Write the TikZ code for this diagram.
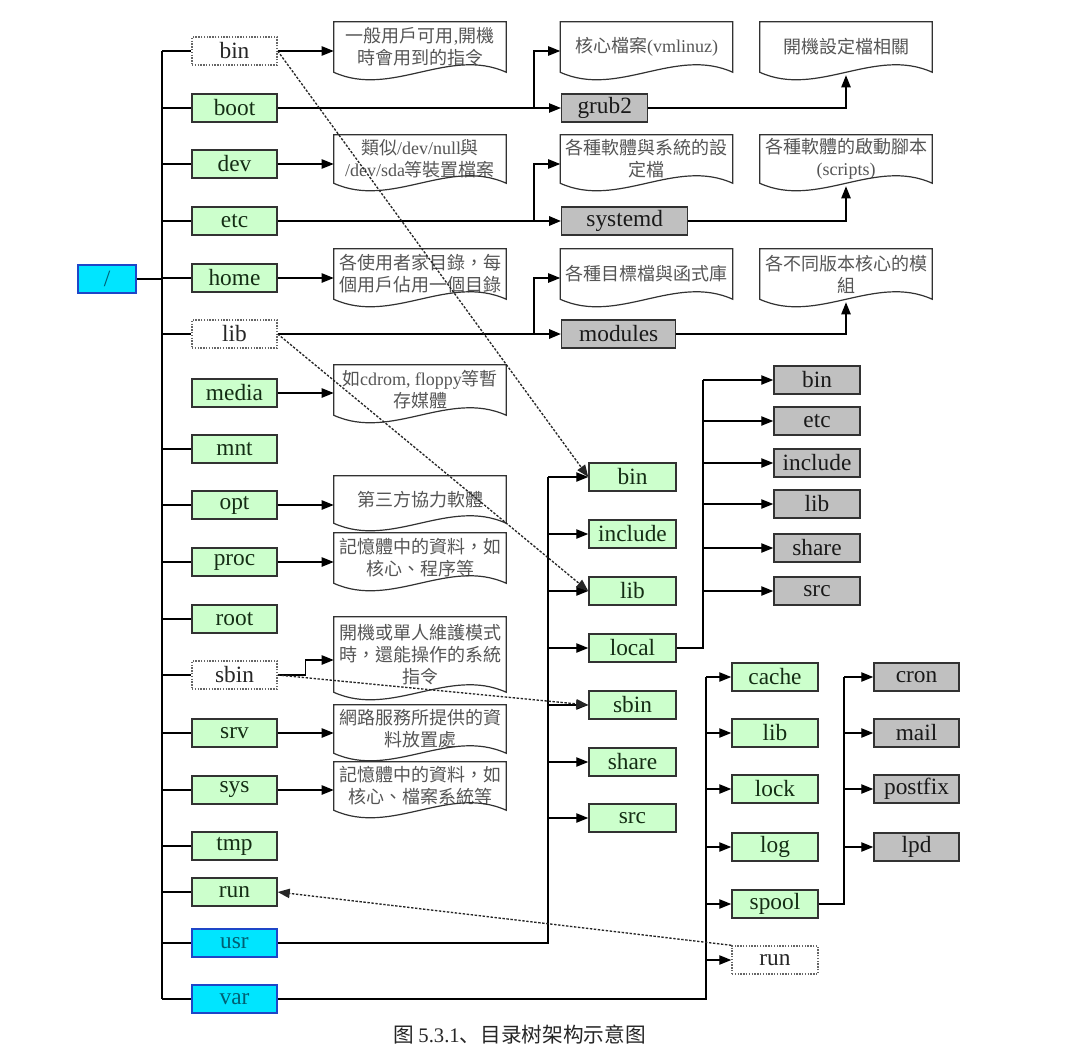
\documentclass[tikz,border=0pt]{standalone}
\usepackage{fontspec}
\setmainfont{Liberation Serif}
\newfontfamily\cjk{Noto Sans CJK TC}
\newfontfamily\cjksc{Noto Sans CJK SC}
\usetikzlibrary{arrows.meta,calc}
\definecolor{gfill}{RGB}{204,255,204}
\definecolor{gtext}{RGB}{20,45,20}
\definecolor{cfill}{RGB}{0,229,255}
\definecolor{cbord}{RGB}{30,70,200}
\definecolor{ctext}{RGB}{0,95,115}
\definecolor{yfill}{RGB}{192,192,192}
\definecolor{bord}{RGB}{50,50,50}
\definecolor{desctext}{RGB}{85,85,85}
\newcommand\docout[1]{\draw[descline] (#1.north west) -- (#1.north east) -- (#1.south east)
  .. controls ($(#1.south east)!1/3!(#1.south west)+(0,-26)$) and ($(#1.south east)!2/3!(#1.south west)+(0,26)$) .. (#1.south west) -- cycle;}
\begin{document}
\begin{tikzpicture}[x=0.75pt,y=-0.75pt,
  box/.style={draw=bord, line width=1.1pt, minimum width=63.75pt, minimum height=21pt, inner sep=0pt, font=\fontsize{17.5}{20}\selectfont},
  gbox/.style={box, fill=gfill, text=gtext},
  cbox/.style={box, fill=cfill, draw=cbord, text=ctext},
  ybox/.style={box, fill=yfill, text=black!90},
  dbox/.style={box, fill=white, draw=black!60, densely dotted, text=black!85},
  desc/.style={minimum width=129pt, inner sep=0pt, align=center, text=desctext, font=\cjk\fontsize{13.5}{16.5}\selectfont},
  descline/.style={draw=bord, line width=0.9pt},
  conn/.style={line width=1pt, draw=black},
  thk/.style={line width=1.7pt},
  tip/.style={-{Triangle[length=9pt,width=7pt]}},
  arr/.style={conn, tip},
  dot/.style={dash pattern=on 1.8pt off 1.2pt, line width=1pt, draw=black!85, tip}
]
\useasboundingbox (0,0) rectangle (1068,1064);
\fill[white] (0,0) rectangle (1068,1064);

% root
\node[cbox, minimum width=43.5pt] (slash) at (107,279) {/};

% first level
\node[dbox] (bin)   at (234.5,51)  {bin};
\node[gbox] (boot)  at (234.5,108) {boot};
\node[gbox] (dev)   at (234.5,164) {dev};
\node[gbox] (etc)   at (234.5,221) {etc};
\node[gbox] (home)  at (234.5,278) {home};
\node[dbox] (lib)   at (234.5,334) {lib};
\node[gbox] (media) at (234.5,393) {media};
\node[gbox] (mnt)   at (234.5,449) {mnt};
\node[gbox] (opt)   at (234.5,505) {opt};
\node[gbox] (proc)  at (234.5,562) {proc};
\node[gbox] (root)  at (234.5,619) {root};
\node[dbox] (sbin)  at (234.5,675) {sbin};
\node[gbox] (srv)   at (234.5,733) {srv};
\node[gbox] (sys)   at (234.5,790) {sys};
\node[gbox] (tmp)   at (234.5,846) {tmp};
\node[gbox] (run)   at (234.5,892) {run};
\node[cbox] (usr)   at (234.5,943) {usr};
\node[cbox] (var)   at (234.5,999) {var};

% descriptions, left column
\node[desc, minimum height=37.5pt] (d1) at (420,47) {一般用戶可用{\rmfamily,}開機\\時會用到的指令};
\node[desc, minimum height=36pt]   (d2) at (420,159) {類似{\rmfamily /dev/null}與\\{\rmfamily /dev/sda}等裝置檔案};
\node[desc, minimum height=37.5pt] (d3) at (420,274) {各使用者家目錄，每\\個用戶佔用一個目錄};
\node[desc, minimum height=37.5pt] (d4) at (420,390) {如{\rmfamily cdrom, floppy}等暫\\存媒體};
\node[desc, minimum height=35.25pt] (d5) at (420,499.5) {第三方協力軟體};
\node[desc, minimum height=37.5pt] (d6) at (420,558) {記憶體中的資料，如\\核心、程序等};
\node[desc, minimum height=56.25pt] (d7) at (420,654.5) {開機或單人維護模式\\時，還能操作的系統\\指令};
\node[desc, minimum height=36pt]   (d8) at (420,729) {網路服務所提供的資\\料放置處};
\node[desc, minimum height=36pt]   (d9) at (420,786) {記憶體中的資料，如\\核心、檔案系統等};

% descriptions, right columns
\node[desc, minimum height=37.5pt] (k1) at (646.5,47) {核心檔案{\rmfamily (vmlinuz)}};
\node[desc, minimum height=37.5pt] (k2) at (846,47) {開機設定檔相關};
\node[desc, minimum height=36pt]   (k3) at (646.5,159) {各種軟體與系統的設\\定檔};
\node[desc, minimum height=36pt]   (k4) at (846,159) {各種軟體的啟動腳本\\{\rmfamily (scripts)}};
\node[desc, minimum height=37.5pt] (k5) at (646.5,274) {各種目標檔與函式庫};
\node[desc, minimum height=37.5pt] (k6) at (846,274) {各不同版本核心的模\\組};

\foreach \d in {d1,d2,d3,d4,d5,d6,d7,d8,d9,k1,k2,k3,k4,k5,k6} {\docout{\d}}

% gray boxes
\node[ybox, anchor=west, minimum width=64.5pt] (grub) at (561,108) {grub2};
\node[ybox, anchor=west, minimum width=94.5pt] (systemd) at (561,221) {systemd};
\node[ybox, anchor=west, minimum width=85.5pt] (modules) at (561,334) {modules};

% usr children
\node[gbox, minimum width=65.25pt] (ubin)     at (632.5,477) {bin};
\node[gbox, minimum width=65.25pt] (uinclude) at (632.5,534) {include};
\node[gbox, minimum width=65.25pt] (ulib)     at (632.5,591) {lib};
\node[gbox, minimum width=65.25pt] (ulocal)   at (632.5,648) {local};
\node[gbox, minimum width=65.25pt] (usbin)    at (632.5,705) {sbin};
\node[gbox, minimum width=65.25pt] (ushare)   at (632.5,762) {share};
\node[gbox, minimum width=65.25pt] (usrc)     at (632.5,818) {src};

% local children
\node[ybox, minimum width=64.5pt] (lbin)     at (817,380) {bin};
\node[ybox, minimum width=64.5pt] (letc)     at (817,421) {etc};
\node[ybox, minimum width=64.5pt] (linclude) at (817,463) {include};
\node[ybox, minimum width=64.5pt] (llib)     at (817,504) {lib};
\node[ybox, minimum width=64.5pt] (lshare)   at (817,548) {share};
\node[ybox, minimum width=64.5pt] (lsrc)     at (817,591) {src};

% var children
\node[gbox, minimum width=64.5pt] (vcache) at (775,677) {cache};
\node[gbox, minimum width=64.5pt] (vlib)   at (775,733) {lib};
\node[gbox, minimum width=64.5pt] (vlock)  at (775,789) {lock};
\node[gbox, minimum width=64.5pt] (vlog)   at (775,847) {log};
\node[gbox, minimum width=64.5pt] (vspool) at (775,904) {spool};
\node[dbox, minimum width=64.5pt] (vrun)   at (775,960) {run};

% spool children
\node[ybox] (scron)    at (916.5,677) {cron};
\node[ybox] (smail)    at (916.5,733) {mail};
\node[ybox] (spostfix) at (916.5,789) {postfix};
\node[ybox] (slpd)     at (916.5,847) {lpd};

% trunk
\coordinate (T) at (162,0);
\draw[conn, thk] (slash.east) -- (slash.east -| T);
\draw[conn] (T |- bin.west) -- (T |- var.west);
\foreach \n in {bin,boot,dev,etc,home,lib,mnt,opt,proc,root,sbin,srv,sys,tmp,run,usr,var}
  {\draw[conn] (T |- \n.west) -- (\n.west);}

% arrows to left descriptions
\draw[arr] (bin.east) -- (bin.east -| d1.west);
\draw[arr] (dev.east) -- (dev.east -| d2.west);
\draw[arr] (home.east) -- (home.east -| d3.west);
\draw[arr] (media.east) -- (media.east -| d4.west);
\draw[arr] (opt.east) -- (opt.east -| d5.west);
\draw[arr] (proc.east) -- (proc.east -| d6.west);
\draw[arr] (sbin.east) -- ++(28,0) |- ($(d7.west)+(0,5.5)$);
\draw[arr] (srv.east) -- (srv.east -| d8.west);
\draw[arr] (sys.east) -- (sys.east -| d9.west);

% boot / etc / lib branches
\coordinate (B) at (534,0);
\draw[arr] (boot.east) -- (grub.west);
\draw[arr] (B |- boot.east) |- (k1.west |- bin.east);
\draw[arr] (grub.east) -| ($(k2.south)+(0,3)$);

\draw[conn, thk] (etc.east) -- (B |- etc.east);
\draw[arr, thk] (B |- etc.east) -- (systemd.west);
\draw[arr] (B |- etc.east) |- (k3.west |- dev.east);
\draw[arr] (systemd.east) -| ($(k4.south)+(0,3)$);

\draw[conn, thk] (lib.east) -- (B |- lib.east);
\draw[arr, thk] (B |- lib.east) -- (modules.west);
\draw[arr] (B |- lib.east) |- (k5.west |- home.east);
\draw[arr] (modules.east) -| ($(k6.south)+(0,3)$);

% usr branch
\coordinate (U) at (548,0);
\draw[conn, thk] (usr.east) -| (U |- ubin.west);
\foreach \n in {ubin,uinclude,ulib,ulocal,usbin,ushare,usrc}
  {\draw[arr] (U |- \n.west) -- (\n.west);}

% local branch
\coordinate (L) at (703,0);
\draw[conn, thk] (ulocal.east) -| (L |- lbin.west);
\foreach \n in {lbin,letc,linclude,llib,lshare,lsrc}
  {\draw[arr] (L |- \n.west) -- (\n.west);}

% var branch
\coordinate (V) at (706,0);
\draw[conn, thk] (var.east) -| (V |- vcache.west);
\foreach \n in {vcache,vlib,vlock,vlog,vspool,vrun}
  {\draw[arr] (V |- \n.west) -- (\n.west);}

% spool branch
\coordinate (S) at (844,0);
\draw[conn, thk] (vspool.east) -| (S |- scron.west);
\foreach \n in {scron,smail,spostfix,slpd}
  {\draw[arr] (S |- \n.west) -- (\n.west);}

% dotted links
\draw[dot] (bin.east) -- (ubin.west);
\draw[dot] (lib.east) -- (ulib.west);
\draw[dot] (sbin.east) -- (usbin.west);
\draw[dot] (vrun.north west) -- (run.east);

% caption
\node[font=\cjksc\fontsize{15.5}{18}\selectfont, text=black!85] (cap) at (519.5,1035) {图 {\rmfamily 5.3.1}、目录树架构示意图};
\end{tikzpicture}
\end{document}
